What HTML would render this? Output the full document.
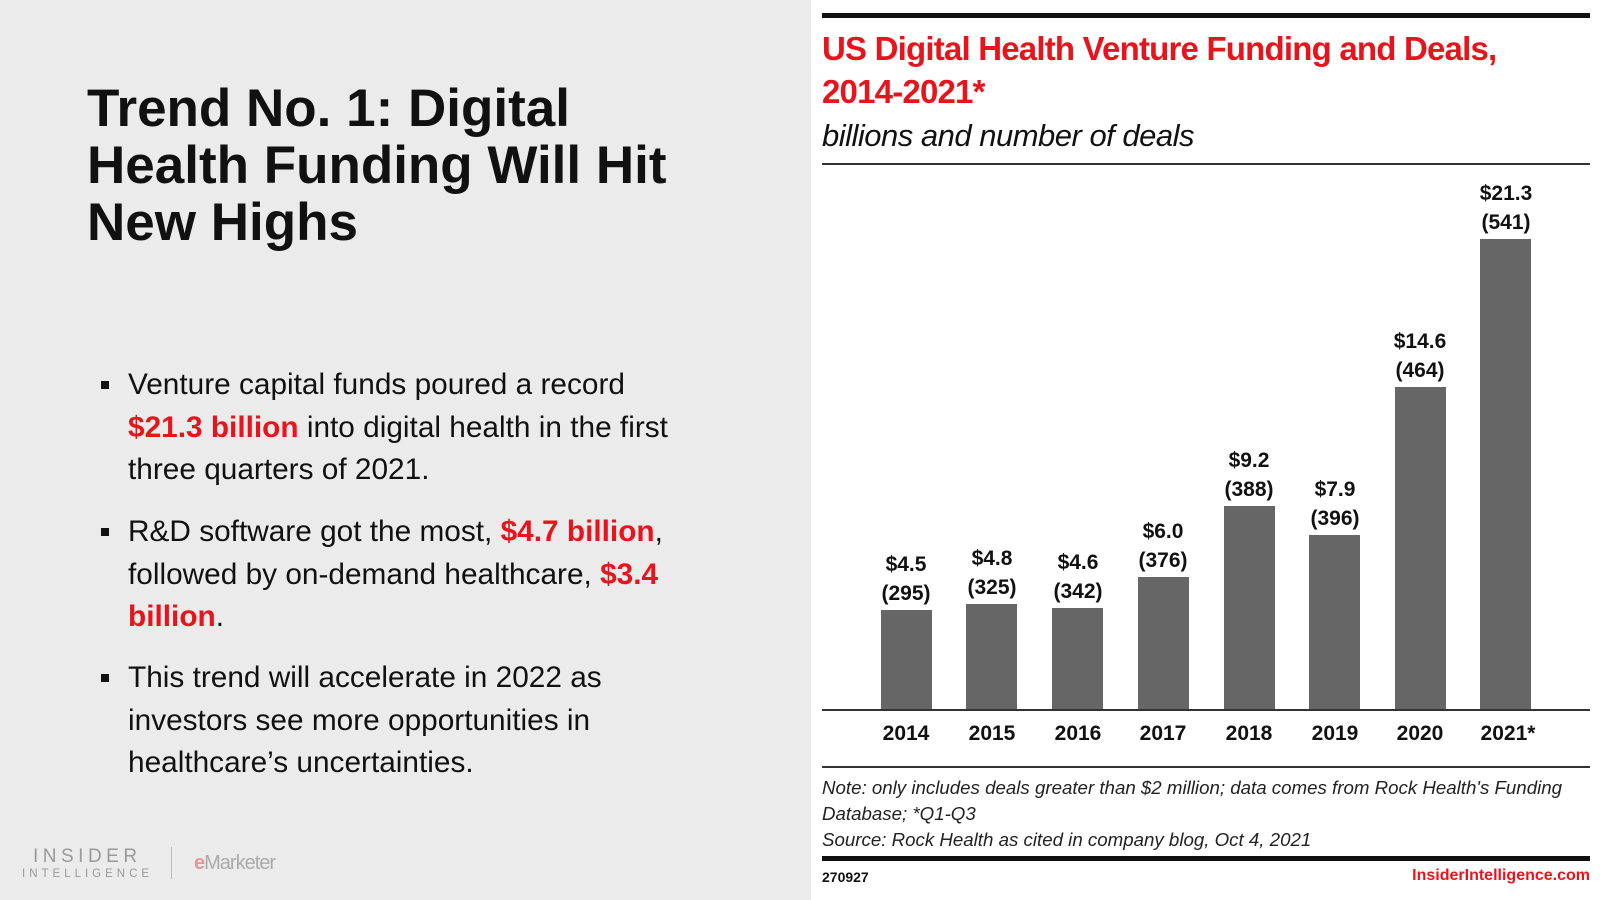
<!DOCTYPE html>
<html><head><style>
body{margin:0;width:1600px;height:900px;background:#ebebeb;position:relative;overflow:hidden;font-family:"Liberation Sans",sans-serif;}
.a{position:absolute;white-space:nowrap;}
.t{font-weight:bold;font-size:53px;line-height:57px;color:#111;left:87px;top:80px;}
.b{font-size:29.8px;color:#111;left:128px;line-height:42.5px;}
.b span{color:#e8141c;font-weight:bold;}
.sq{position:absolute;width:8px;height:8px;background:#111;left:101px;}
.r{color:#e8141c;font-weight:bold;}
.v{font-weight:bold;font-size:21px;text-align:center;width:100px;line-height:29px;color:#111;}
.bar{position:absolute;background:#666;width:51px;}
.yr{font-weight:bold;font-size:21px;text-align:center;width:100px;top:722px;color:#111;}
.n{font-style:italic;font-size:18.7px;color:#222;left:822px;}
</style></head><body>
<div class="a t">Trend No. 1: Digital<br>Health Funding Will Hit<br>New Highs</div>
<div class="sq" style="top:381px"></div>
<div class="a b" style="top:364px">Venture capital funds poured a record<br><span>$21.3 billion</span> into digital health in the first<br>three quarters of 2021.</div>
<div class="sq" style="top:528px"></div>
<div class="a b" style="top:511px">R&amp;D software got the most, <span>$4.7 billion</span>,<br>followed by on-demand healthcare, <span>$3.4</span><br><span>billion</span>.</div>
<div class="sq" style="top:674px"></div>
<div class="a b" style="top:657px">This trend will accelerate in 2022 as<br>investors see more opportunities in<br>healthcare’s uncertainties.</div>
<div class="a" style="left:33px;top:846px;font-size:19px;letter-spacing:4.5px;color:#999">INSIDER</div>
<div class="a" style="left:22px;top:868px;font-size:11.5px;letter-spacing:4px;color:#999">INTELLIGENCE</div>
<div class="a" style="left:171px;top:847px;width:1px;height:32px;background:#bbb"></div>
<div class="a" style="left:194px;top:852px;font-size:20px;color:#aaa;letter-spacing:-1px"><span style="color:#e8959a;font-weight:bold">e</span>Marketer</div>

<div class="a" style="left:811px;top:0;width:789px;height:900px;background:#fff"></div>
<div class="a" style="left:822px;top:13px;width:768px;height:5px;background:#111"></div>
<div class="a r" style="left:822px;top:27px;font-size:33px;line-height:43px;letter-spacing:-0.8px">US Digital Health Venture Funding and Deals,<br>2014-2021*</div>
<div class="a" style="left:822px;top:118px;font-size:31px;font-style:italic;color:#111;letter-spacing:-0.5px">billions and number of deals</div>
<div class="a" style="left:822px;top:163px;width:768px;height:2px;background:#333"></div>

<div class="bar" style="left:881px;top:610px;height:100px"></div>
<div class="bar" style="left:966px;top:604px;height:106px"></div>
<div class="bar" style="left:1052px;top:608px;height:102px"></div>
<div class="bar" style="left:1138px;top:577px;height:133px"></div>
<div class="bar" style="left:1224px;top:506px;height:204px"></div>
<div class="bar" style="left:1309px;top:535px;height:175px"></div>
<div class="bar" style="left:1395px;top:387px;height:323px"></div>
<div class="bar" style="left:1480px;top:239px;height:471px"></div>

<div class="a v" style="left:856px;top:550px">$4.5<br>(295)</div>
<div class="a v" style="left:942px;top:544px">$4.8<br>(325)</div>
<div class="a v" style="left:1028px;top:548px">$4.6<br>(342)</div>
<div class="a v" style="left:1113px;top:517px">$6.0<br>(376)</div>
<div class="a v" style="left:1199px;top:446px">$9.2<br>(388)</div>
<div class="a v" style="left:1285px;top:475px">$7.9<br>(396)</div>
<div class="a v" style="left:1370px;top:327px">$14.6<br>(464)</div>
<div class="a v" style="left:1456px;top:179px">$21.3<br>(541)</div>

<div class="a" style="left:822px;top:709px;width:768px;height:2px;background:#333"></div>
<div class="a yr" style="left:856px">2014</div>
<div class="a yr" style="left:942px">2015</div>
<div class="a yr" style="left:1028px">2016</div>
<div class="a yr" style="left:1113px">2017</div>
<div class="a yr" style="left:1199px">2018</div>
<div class="a yr" style="left:1285px">2019</div>
<div class="a yr" style="left:1370px">2020</div>
<div class="a yr" style="left:1458px">2021*</div>

<div class="a" style="left:822px;top:766px;width:768px;height:2px;background:#333"></div>
<div class="a n" style="top:775px;line-height:26px">Note: only includes deals greater than $2 million; data comes from Rock Health's Funding<br>Database; *Q1-Q3<br>Source: Rock Health as cited in company blog, Oct 4, 2021</div>
<div class="a" style="left:822px;top:856px;width:768px;height:5px;background:#111"></div>
<div class="a" style="left:822px;top:869px;font-size:14px;font-weight:bold;color:#111">270927</div>
<div class="a r" style="right:10px;top:867px;font-size:16px">InsiderIntelligence.com</div>
</body></html>
